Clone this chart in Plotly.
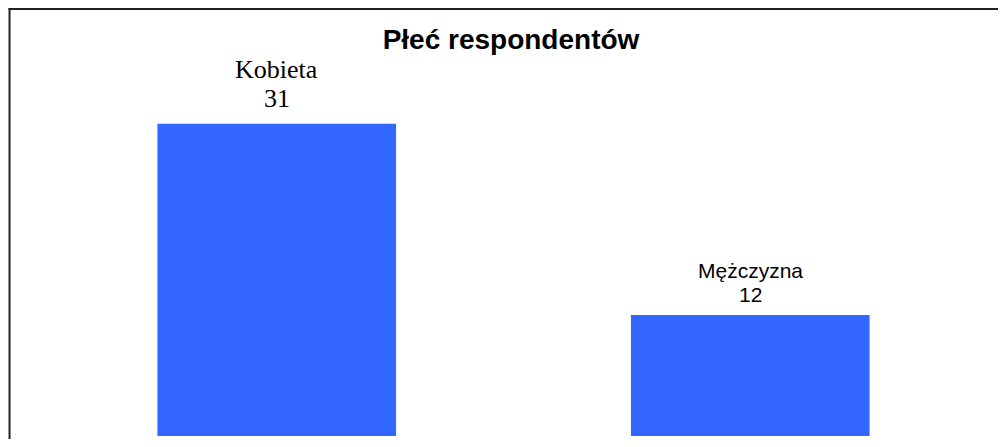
import plotly.graph_objects as go

categories = ["Kobieta", "Mężczyzna"]
values = [31, 12]
label_fonts = ["Liberation Serif", "Liberation Sans"]
label_sizes = [26, 21]
value_shift = [9, 7.5]
line_gap = [29, 24]
title_text = "Płeć respondentów"

# page body has an 8px margin; figure drawn at page offset (8, 8)
W, H = 990, 431
ml, mr, mt, mb = 31.5, 10.5, 25, 3

fig = go.Figure()
fig.add_trace(go.Bar(
    x=categories, y=values, width=0.504,
    marker=dict(color="#3366FF", line=dict(width=0)),
    hoverinfo="x+y",
))

for c, v, fam, sz, vs, lg in zip(categories, values, label_fonts, label_sizes,
                                  value_shift, line_gap):
    fig.add_annotation(
        x=c, y=v, xref="x", yref="y", text=str(v), showarrow=False,
        yanchor="bottom", xanchor="center", yshift=vs,
        font=dict(family=fam, size=sz, color="#000000"),
    )
    fig.add_annotation(
        x=c, y=v, xref="x", yref="y", text=c, showarrow=False,
        yanchor="bottom", xanchor="center", yshift=vs + lg,
        font=dict(family=fam, size=sz, color="#000000"),
    )

pw = W - ml - mr
ph = H - mt - mb
# frame: top and left edges visible
fig.add_shape(type="line", xref="paper", yref="paper",
              x0=(0 - ml) / pw, x1=(W + 40 - ml) / pw,
              y0=(H - mb - 1) / ph, y1=(H - mb - 1) / ph,
              line=dict(color="#222222", width=2), layer="above")
fig.add_shape(type="line", xref="paper", yref="paper",
              x0=(1 - ml) / pw, x1=(1 - ml) / pw,
              y0=(H - mb - 0) / ph, y1=-(mb + 40) / ph,
              line=dict(color="#222222", width=2), layer="above")

fig.update_layout(
    width=W, height=H,
    margin=dict(l=ml, r=mr, t=mt, b=mb, pad=0),
    paper_bgcolor="white", plot_bgcolor="white",
    showlegend=False,
    title=dict(text=f"<b>{title_text}</b>", x=503 / W, xanchor="center",
               y=1 - 31 / H, yanchor="middle", yref="container",
               font=dict(family="Liberation Sans", size=28, color="#000000")),
    xaxis=dict(range=[-0.5, 1.5], showgrid=False, zeroline=False,
               showticklabels=False, showline=False, ticks=""),
    yaxis=dict(range=[0, 40], showgrid=False, zeroline=False,
               showticklabels=False, showline=False, ticks=""),
)

fig.write_html("out.html")
